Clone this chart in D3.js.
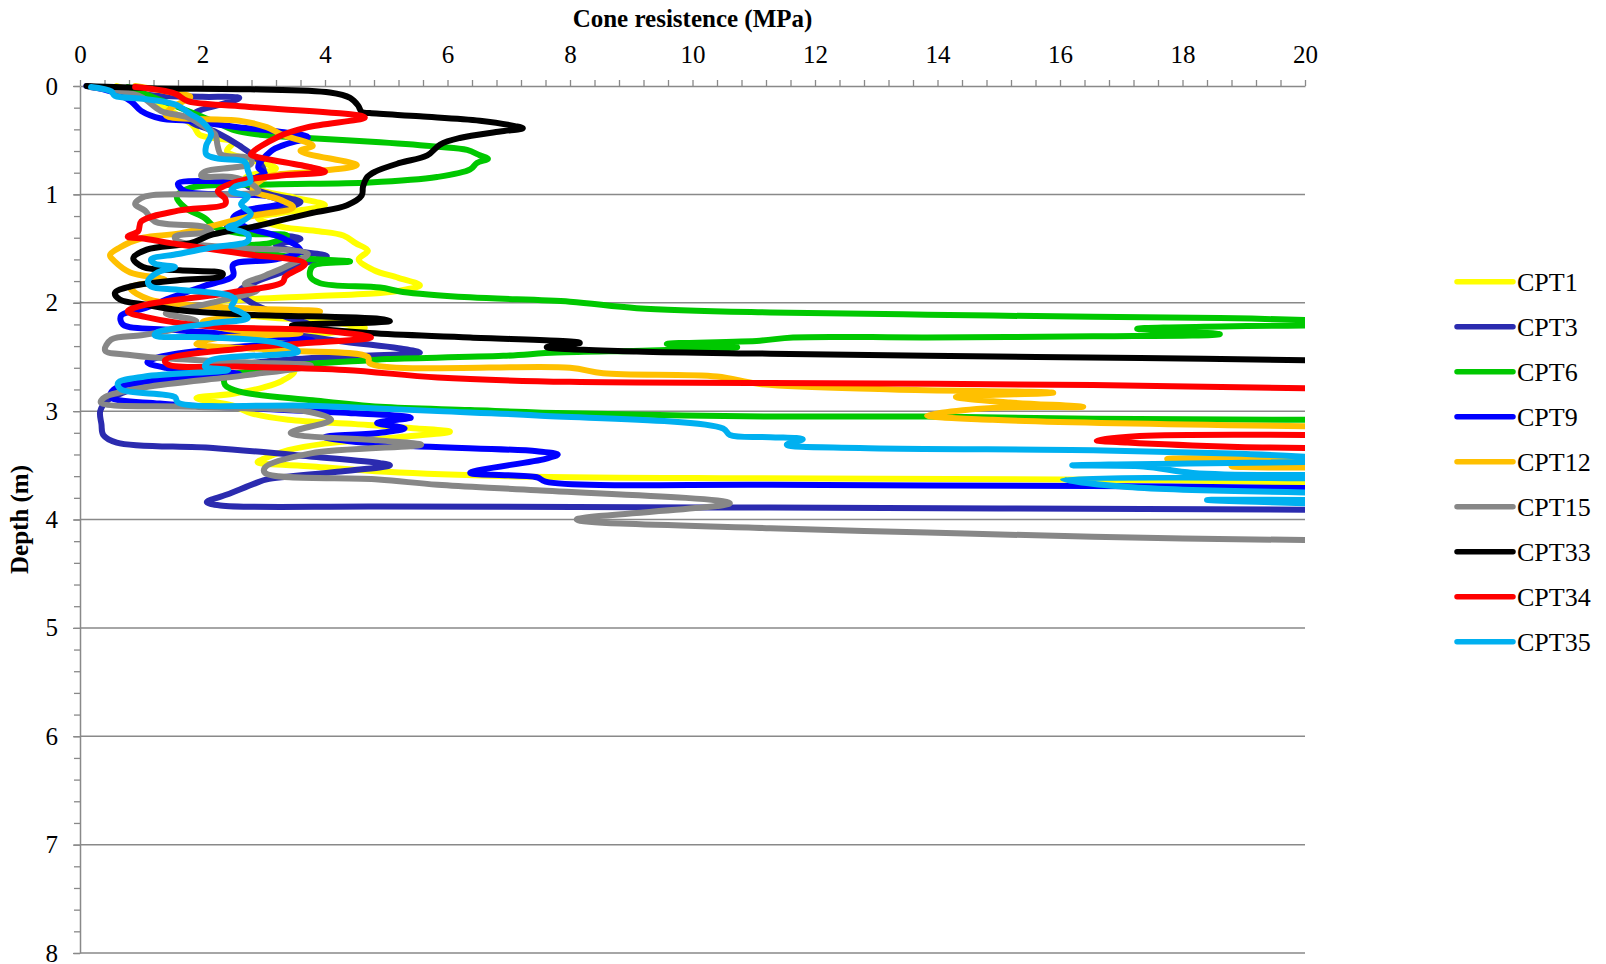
<!DOCTYPE html>
<html>
<head>
<meta charset="utf-8">
<script src="https://cdn.jsdelivr.net/npm/d3@7"></script>
<style>
  body { margin: 0; background: #fff; }
  svg { display: block; font-family: "Liberation Serif", "Times New Roman", serif; }
</style>
</head>
<body>
<svg id="chart" width="1606" height="964"></svg>
<script>
// Cone resistance profiles: each point is [qc (MPa), depth (m)]; null = trace leaves the 0-20 MPa window
const seriesNames = ["CPT1", "CPT3", "CPT6", "CPT9", "CPT12", "CPT15", "CPT33", "CPT34", "CPT35"];

const cpt1 = [[0.6,0.0],[1.0,0.08],[1.4,0.2],[1.85,0.37],[1.95,0.45],[2.5,0.52],[2.4,0.6],[2.9,0.7],[3.2,0.76],[2.7,0.85],[2.9,0.95],[3.5,1.03],[4.0,1.1],[3.3,1.17],[2.9,1.22],[3.3,1.3],[3.9,1.34],[4.3,1.38],[4.5,1.45],[4.7,1.52],[4.55,1.6],[4.8,1.7],[5.2,1.77],[5.55,1.84],[5.3,1.88],[4.9,1.91],[3.8,1.94],[2.7,1.97],[2.2,2.0],[2.6,2.1],[3.9,2.17],[4.65,2.23],[3.8,2.3],[3.0,2.4],[3.2,2.55],[3.5,2.63],[3.3,2.72],[3.0,2.78],[2.5,2.84],[1.9,2.88],[2.5,2.95],[2.8,3.02],[3.4,3.08],[4.5,3.12],[5.5,3.16],[6.04,3.19],[5.2,3.24],[4.0,3.3],[3.4,3.36],[3.0,3.44],[2.9,3.47],[3.8,3.51],[5.0,3.56],[7.0,3.6],[11.0,3.62],[16.0,3.63],[18.0,3.64],[20,3.66]];

const cpt3 = [[0.1,0.0],[0.7,0.05],[1.3,0.09],[2.0,0.1],[2.6,0.11],[2.3,0.17],[1.9,0.24],[1.8,0.32],[2.2,0.42],[2.6,0.55],[2.9,0.68],[3.0,0.8],[2.7,0.9],[3.1,1.0],[3.6,1.07],[3.3,1.13],[2.7,1.2],[2.4,1.3],[3.0,1.36],[3.6,1.41],[3.2,1.47],[3.5,1.52],[4.03,1.57],[3.7,1.63],[3.4,1.7],[2.9,1.8],[2.6,1.9],[2.8,2.0],[3.3,2.12],[3.8,2.22],[3.4,2.27],[4.2,2.35],[5.2,2.42],[5.55,2.46],[4.6,2.49],[3.5,2.52],[2.5,2.58],[1.8,2.66],[1.2,2.75],[0.7,2.83],[0.45,2.9],[0.33,3.0],[0.35,3.12],[0.38,3.22],[0.6,3.29],[2.17,3.34],[3.8,3.42],[4.9,3.48],[5.06,3.5],[4.2,3.56],[3.05,3.63],[2.89,3.66],[2.4,3.77],[2.07,3.84],[2.29,3.87],[4.9,3.88],[11.27,3.89],[20,3.91]];

const cpt6 = [[0.78,0.01],[1.18,0.1],[1.63,0.2],[2.2,0.33],[2.53,0.41],[2.94,0.45],[3.71,0.48],[4.9,0.52],[5.83,0.56],[6.32,0.59],[6.53,0.64],[6.66,0.67],[6.48,0.71],[6.37,0.77],[5.83,0.84],[4.73,0.89],[3.05,0.91],[1.8,0.94],[1.58,1.02],[1.71,1.12],[2.04,1.22],[2.2,1.3],[2.61,1.36],[3.38,1.38],[3.1,1.45],[2.37,1.48],[2.94,1.53],[3.59,1.59],[4.41,1.62],[3.8,1.66],[3.76,1.76],[3.92,1.82],[4.9,1.86],[5.27,1.9],[6.37,1.95],[8.0,1.99],[9.09,2.05],[11.27,2.09],[13.83,2.11],[16.54,2.13],[18.61,2.14],[20,2.16],null,[20,2.21],[17.26,2.24],[18.61,2.29],[16.54,2.31],[13.83,2.32],[11.64,2.32],[11.1,2.35],[9.58,2.38],[10.73,2.41],[9.31,2.44],[7.79,2.46],[6.91,2.49],[5.01,2.52],[4.73,2.53],[3.59,2.57],[2.94,2.62],[2.37,2.69],[2.37,2.76],[2.61,2.82],[3.8,2.9],[4.9,2.96],[6.37,2.99],[8.0,3.02],[11.27,3.05],[13.83,3.05],[16.54,3.07],[20,3.08]];

const cpt9 = [[0.18,0.01],[0.5,0.05],[0.83,0.14],[1.0,0.23],[1.32,0.3],[1.76,0.32],[2.58,0.38],[3.23,0.42],[3.72,0.47],[3.35,0.54],[3.12,0.6],[2.91,0.75],[3.02,0.81],[2.61,0.87],[1.6,0.9],[1.71,0.97],[2.42,1.0],[3.1,1.02],[3.3,1.08],[2.7,1.15],[2.5,1.22],[2.7,1.3],[3.3,1.4],[3.6,1.52],[3.2,1.6],[2.5,1.65],[2.5,1.75],[2.0,1.85],[1.5,1.95],[1.06,2.05],[0.67,2.12],[0.7,2.2],[1.5,2.25],[2.7,2.3],[3.8,2.35],[2.3,2.42],[1.3,2.5],[1.1,2.55],[1.4,2.6],[2.6,2.66],[1.2,2.72],[0.55,2.8],[0.5,2.87],[1.3,2.93],[3.0,2.98],[4.5,3.02],[5.4,3.06],[4.85,3.11],[5.3,3.16],[4.9,3.2],[4.0,3.24],[5.06,3.31],[7.46,3.37],[7.8,3.4],[7.6,3.44],[6.37,3.57],[7.46,3.61],[7.6,3.65],[11.3,3.68],[16.5,3.69],[20,3.71]];

const cpt12 = [[0.9,0.0],[1.6,0.07],[1.8,0.1],[1.5,0.2],[1.4,0.27],[2.6,0.32],[3.05,0.38],[3.3,0.45],[3.8,0.55],[3.6,0.6],[4.52,0.73],[3.8,0.79],[3.05,0.84],[2.82,0.96],[3.27,1.05],[3.48,1.12],[2.8,1.2],[1.63,1.36],[1.03,1.4],[0.65,1.49],[0.49,1.56],[0.57,1.62],[0.82,1.72],[1.39,1.79],[0.82,1.86],[1.14,1.97],[2.29,2.04],[3.92,2.08],[2.8,2.12],[2.0,2.18],[2.5,2.25],[3.6,2.28],[2.2,2.33],[1.9,2.38],[3.4,2.44],[4.7,2.5],[4.73,2.56],[8.0,2.6],[8.54,2.65],[10.4,2.68],[11.1,2.75],[13.27,2.8],[15.89,2.83],[14.3,2.87],[15.18,2.92],[16.38,2.96],[14.9,2.97],[13.83,3.04],[14.9,3.08],[20,3.14],null,[20,3.43],[17.75,3.44],[19.5,3.47],[18.8,3.51],[20,3.52]];

const cpt15 = [[0.16,0.01],[0.67,0.05],[1.0,0.1],[1.32,0.23],[1.76,0.29],[2.04,0.38],[2.2,0.44],[2.25,0.56],[2.3,0.63],[2.79,0.67],[2.79,0.72],[2.53,0.75],[2.04,0.79],[1.98,0.83],[2.47,0.84],[2.79,0.9],[2.91,0.97],[2.25,1.0],[1.06,1.02],[0.9,1.09],[1.06,1.15],[1.22,1.25],[2.04,1.3],[2.14,1.34],[1.55,1.39],[1.6,1.43],[2.42,1.49],[3.72,1.55],[3.35,1.67],[3.02,1.75],[2.69,1.83],[2.9,1.88],[2.3,1.98],[1.6,2.07],[1.4,2.1],[1.9,2.17],[1.5,2.25],[1.0,2.3],[0.51,2.34],[0.41,2.44],[0.78,2.48],[1.32,2.51],[2.69,2.55],[3.77,2.58],[2.69,2.67],[1.06,2.78],[0.41,2.87],[0.34,2.92],[1.88,2.96],[3.77,3.01],[4.1,3.08],[3.44,3.2],[4.87,3.27],[5.57,3.31],[3.77,3.39],[3.02,3.52],[3.02,3.57],[4.87,3.63],[5.84,3.68],[7.46,3.73],[10.61,3.85],[8.11,4.0],[11.27,4.08],[13.83,4.12],[16.54,4.16],[20,4.19]];

const cpt33 = [[0.11,0.0],[1.14,0.02],[2.78,0.03],[4.08,0.06],[4.41,0.11],[4.54,0.18],[4.6,0.24],[4.73,0.25],[5.55,0.28],[6.53,0.32],[7.1,0.37],[7.23,0.39],[6.86,0.42],[6.2,0.48],[5.88,0.54],[5.67,0.64],[5.22,0.71],[4.82,0.79],[4.69,0.84],[4.62,0.93],[4.6,1.01],[4.36,1.1],[3.8,1.17],[3.27,1.24],[2.82,1.3],[2.17,1.37],[1.8,1.45],[1.09,1.51],[0.87,1.59],[1.03,1.67],[1.63,1.7],[2.33,1.73],[2.29,1.76],[1.63,1.79],[0.82,1.85],[0.57,1.91],[0.65,1.97],[1.09,2.02],[1.63,2.07],[2.73,2.11],[4.9,2.15],[5.06,2.17],[3.46,2.21],[4.73,2.28],[6.37,2.32],[8.16,2.37],[7.62,2.41],[9.09,2.45],[11.27,2.47],[13.83,2.49],[17.31,2.51],[20,2.53]];

const cpt34 = [[0.9,0.01],[1.55,0.07],[1.76,0.14],[2.69,0.19],[4.65,0.29],[3.72,0.38],[3.23,0.47],[2.79,0.63],[2.86,0.65],[3.77,0.75],[4.0,0.79],[3.23,0.83],[2.58,0.88],[2.25,0.97],[2.37,1.04],[2.37,1.09],[1.6,1.15],[1.0,1.25],[0.95,1.34],[0.78,1.39],[1.06,1.41],[1.6,1.46],[2.69,1.55],[3.67,1.64],[3.35,1.76],[3.31,1.81],[2.42,1.91],[1.06,2.02],[0.78,2.08],[1.06,2.13],[2.14,2.22],[3.77,2.25],[4.75,2.32],[3.77,2.37],[2.69,2.42],[1.39,2.53],[1.44,2.57],[2.69,2.59],[4.33,2.62],[5.84,2.69],[8.0,2.73],[11.27,2.74],[16.54,2.76],[20,2.79],null,[20,3.22],[17.3,3.23],[16.6,3.27],[17.1,3.29],[18.9,3.33],[20,3.34]];

const cpt35 = [[0.18,0.01],[0.51,0.05],[0.57,0.09],[1.06,0.12],[1.55,0.17],[1.81,0.26],[1.98,0.32],[2.14,0.44],[2.06,0.55],[2.06,0.63],[2.25,0.67],[2.69,0.7],[2.74,0.78],[2.78,0.88],[2.53,0.93],[2.47,0.97],[2.74,1.02],[2.63,1.09],[2.79,1.18],[2.58,1.27],[2.42,1.3],[2.74,1.37],[2.74,1.43],[2.14,1.49],[1.6,1.55],[1.16,1.6],[1.22,1.64],[1.55,1.67],[1.27,1.72],[1.11,1.8],[1.16,1.85],[1.6,1.88],[2.42,1.93],[2.53,1.97],[2.47,2.04],[2.63,2.09],[2.74,2.14],[2.14,2.19],[1.27,2.27],[1.22,2.3],[2.14,2.32],[3.23,2.37],[3.56,2.45],[2.14,2.53],[2.04,2.59],[2.42,2.62],[1.06,2.68],[0.62,2.74],[0.67,2.8],[1.55,2.87],[1.6,2.92],[3.77,2.95],[5.84,3.0],[7.46,3.04],[10.5,3.16],[10.61,3.22],[11.27,3.24],[11.8,3.26],[11.54,3.31],[12.73,3.34],[16.54,3.36],[18.82,3.39],[20,3.42],null,[20,3.47],[16.2,3.5],[17.36,3.51],[18.17,3.57],[20,3.59],null,[20,3.62],[16.05,3.63],[17.1,3.7],[20,3.75],null,[20,3.82],[18.4,3.82],[20,3.85]];

const seriesValues = [cpt1, cpt3, cpt6, cpt9, cpt12, cpt15, cpt33, cpt34, cpt35];
const seriesColors = ["#FFFF00", "#2B2BAF", "#00C800", "#0000FF", "#FFC000", "#878787", "#000000", "#FF0000", "#00B0F0"];

const xTicks = [0, 2, 4, 6, 8, 10, 12, 14, 16, 18, 20];
const yTicks = [0, 1, 2, 3, 4, 5, 6, 7, 8];
const xTitle = "Cone resistence (MPa)";
const yTitle = "Depth (m)";

const svg = d3.select("#chart");
const axisColor = "#898989";
const serif = "'Liberation Serif', 'Times New Roman', serif";

const x = d3.scaleLinear().domain([0, 20]).range([80, 1305]);
const y = d3.scaleLinear().domain([0, 8]).range([86, 953]);

// horizontal gridlines at each metre
svg.append("g")
  .selectAll("line")
  .data(yTicks.filter(d => d > 0))
  .join("line")
  .attr("x1", x(0)).attr("x2", x(20))
  .attr("y1", d => y(d)).attr("y2", d => y(d))
  .attr("stroke", axisColor).attr("stroke-width", 1.5);

function styleAxis(g) {
  g.attr("font-family", serif).attr("font-size", 25);
  g.selectAll("path.domain").attr("stroke", axisColor).attr("stroke-width", 1.5);
  g.selectAll(".tick line").attr("stroke", axisColor).attr("stroke-width", 1.3);
  g.selectAll(".tick text").attr("fill", "#000");
}

// top axis: minor ticks every 0.4 MPa plus labels every 2 MPa
svg.append("g")
  .attr("transform", `translate(0,${y(0)})`)
  .call(d3.axisTop(x).tickValues(d3.range(0, 20.001, 0.4)).tickSize(6).tickSizeOuter(0).tickFormat(""))
  .call(styleAxis);
svg.append("g")
  .attr("transform", `translate(0,${y(0)})`)
  .call(d3.axisTop(x).tickValues(xTicks).tickSize(0).tickPadding(23).tickFormat(d3.format("d")))
  .call(g => g.select("path.domain").remove())
  .call(styleAxis);

// left axis: minor ticks every 0.2 m plus labels every metre
svg.append("g")
  .attr("transform", `translate(${x(0)},0)`)
  .call(d3.axisLeft(y).tickValues(d3.range(0, 8.001, 0.2)).tickSize(6).tickSizeOuter(0).tickFormat(""))
  .call(styleAxis);
svg.append("g")
  .attr("transform", `translate(${x(0)},0)`)
  .call(d3.axisLeft(y).tickValues(yTicks).tickSize(7).tickPadding(15).tickFormat(d3.format("d")))
  .call(g => g.select("path.domain").remove())
  .call(styleAxis);

// axis titles
svg.append("text")
  .attr("x", (x(0) + x(20)) / 2).attr("y", 27)
  .attr("text-anchor", "middle")
  .attr("font-family", serif)
  .style("font-size", "25px").style("font-weight", "bold")
  .text(xTitle);
svg.append("text")
  .attr("transform", `translate(28,${(y(0) + y(8)) / 2}) rotate(-90)`)
  .attr("text-anchor", "middle")
  .attr("font-family", serif)
  .style("font-size", "25px").style("font-weight", "bold")
  .text(yTitle);

// profiles are clipped at the 20 MPa edge of the plot
svg.append("clipPath").attr("id", "plot-clip")
  .append("rect")
  .attr("x", 60).attr("y", 70)
  .attr("width", x(20) - 60).attr("height", 900);

const line = d3.line()
  .defined(d => d !== null)
  .x(d => x(d[0]))
  .y(d => y(d[1]))
  .curve(d3.curveCatmullRom.alpha(0.5));

svg.append("g")
  .attr("clip-path", "url(#plot-clip)")
  .selectAll("path")
  .data(seriesValues)
  .join("path")
  .attr("d", d => line(d))
  .attr("fill", "none")
  .attr("stroke", (d, i) => seriesColors[i])
  .attr("stroke-width", 6)
  .attr("stroke-linejoin", "round")
  .attr("stroke-linecap", "round");

// legend
const legend = svg.append("g").attr("font-family", serif);
const legendItems = legend.selectAll("g")
  .data(seriesNames)
  .join("g")
  .attr("transform", (d, i) => `translate(1457,${281.7 + 45 * i})`);
legendItems.append("line")
  .attr("x1", 0).attr("x2", 56)
  .attr("stroke", (d, i) => seriesColors[i])
  .attr("stroke-width", 5.5)
  .attr("stroke-linecap", "round");
legendItems.append("text")
  .attr("x", 60).attr("y", 9)
  .style("font-size", "26px")
  .text(d => d);
</script>
</body>
</html>
